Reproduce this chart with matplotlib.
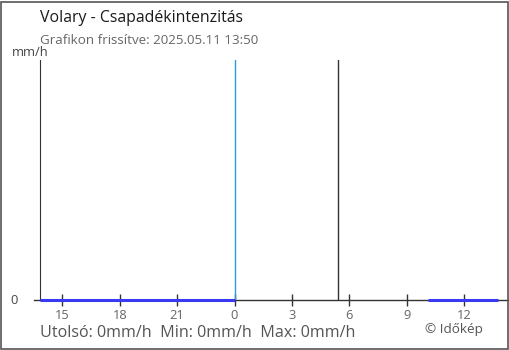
import matplotlib.pyplot as plt
from matplotlib.patches import Rectangle

plt.rcParams['font.family'] = ['Open Sans', 'DejaVu Sans']

# hours relative to midnight (negative = previous day)
seg1_x = [-10.15, 0.0]
seg1_y = [0, 0]
seg2_x = [10.1, 13.8]
seg2_y = [0, 0]
tick_pos = [-9, -6, -3, 0, 3, 6, 9, 12]
tick_labels = ['15', '18', '21', '0', '3', '6', '9', '12']
midnight = 0.0
marker_line = 5.43
x_range = [-10.17, 13.83]

W, H = 510, 350
fig = plt.figure(figsize=(W / 100, H / 100), dpi=100)
fig.patches.append(Rectangle((1 / W, 1 / H), 1 - 3 / W, 1 - 3 / H, transform=fig.transFigure,
                             fill=False, edgecolor='#555555', linewidth=1.2))

ax = fig.add_axes([40 / W, 1 - 300 / H, 459 / W, 240 / H])
ax.set_xlim(x_range)
ax.set_ylim(0, 1)
for s in ['top', 'right']:
    ax.spines[s].set_visible(False)
ax.spines['left'].set_color('#333333')
ax.spines['bottom'].set_visible(False)
ax.axhline(0, xmin=-6 / 459, xmax=1 + 11 / 459, color='#333333', lw=1, clip_on=False, zorder=1)

ax.axvline(midnight, color='#2a9be0', lw=1, zorder=2)
ax.axvline(marker_line, color='#333333', lw=1, zorder=2)
ax.plot(seg1_x, seg1_y, color='#3a3af5', lw=2.2, zorder=3, clip_on=False, solid_capstyle='butt')
ax.plot(seg2_x, seg2_y, color='#3a3af5', lw=2.2, zorder=3, clip_on=False, solid_capstyle='butt')

ax.set_xticks(tick_pos)
ax.set_xticklabels(tick_labels)
ax.tick_params(axis='x', direction='inout', length=9, width=1, color='#333333',
               labelsize=9.3, labelcolor='#666666', pad=2)
ax.set_yticks([])
ax.patch.set_alpha(0)

fig.text(10 / W, 1 - 300 / H, '0', fontsize=9.3, color='#444444', va='center', ha='left')
fig.text(12 / W, 1 - 52 / H, 'mm/h', fontsize=9.3, color='#444444', va='center', ha='left')
fig.text(40 / W, 1 - 18 / H, 'Volary - Csapadékintenzitás', fontsize=11.4, color='#1a1a1a',
         va='center', ha='left')
fig.text(40 / W, 1 - 41 / H, 'Grafikon frissítve: 2025.05.11 13:50', fontsize=9.6,
         color='#666666', va='center', ha='left')
fig.text(40 / W, 1 - 333 / H, 'Utolsó: 0mm/h  Min: 0mm/h  Max: 0mm/h', fontsize=11.6,
         color='#555555', va='center', ha='left')
fig.text(425 / W, 1 - 330 / H, '© Időkép', fontsize=9.7, color='#555555', va='center', ha='left')

fig.savefig('out.png', dpi=100)
